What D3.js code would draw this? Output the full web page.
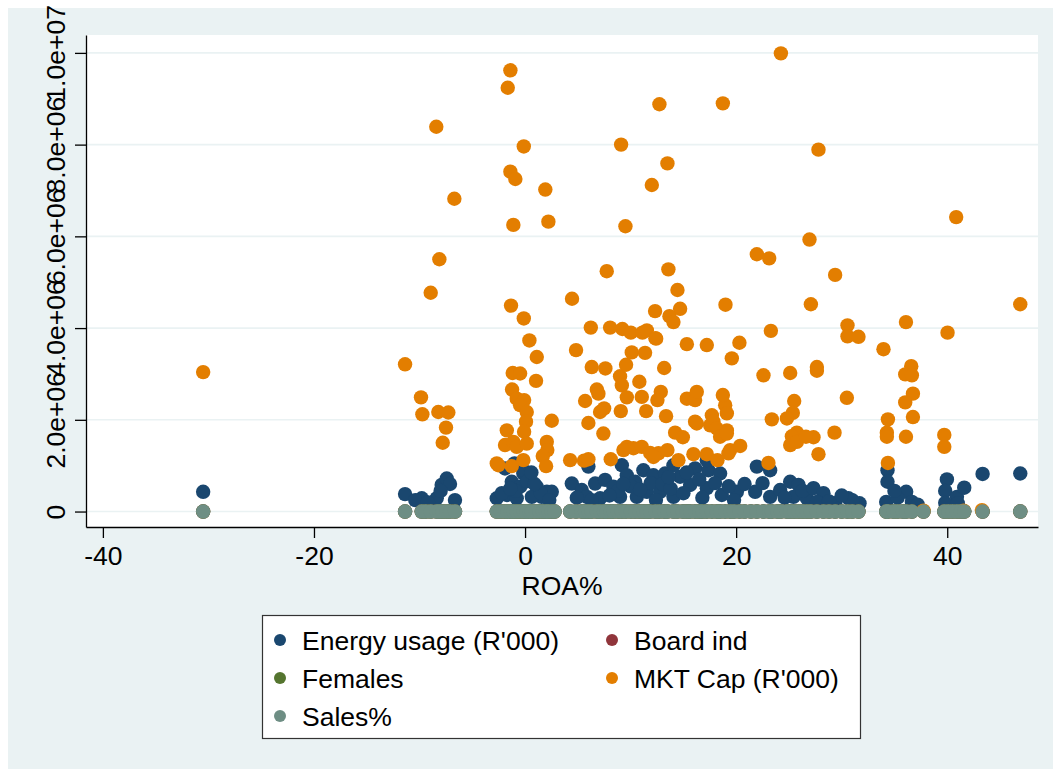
<!DOCTYPE html>
<html>
<head>
<meta charset="utf-8">
<script src="https://cdn.jsdelivr.net/npm/d3@7"></script>
<style>
  body { margin: 0; background: #fff; }
  text { font-family: "Liberation Sans", Arial, sans-serif; }
</style>
</head>
<body>
<div id="chart"></div>
<script>
// legend order (Stata fills row-wise): p1..p5
var seriesNames = ["Energy usage (R'000)", "Board ind", "Females", "MKT Cap (R'000)", "Sales%"];
var seriesColors = ["#1a476f", "#90353b", "#55752f", "#e37e00", "#6e8e84"];

var xTicks = [-40, -20, 0, 20, 40];
var yTicks = [0, 2e6, 4e6, 6e6, 8e6, 1e7];
var yTickLabels = ["0", "2.0e+06", "4.0e+06", "6.0e+06", "8.0e+06", "1.0e+07"];

// [ROA%, MKT Cap (R'000)]
var mktCap = [
  [-30.5, 3.04e6], [-11.37, 3.21e6], [-9.86, 2.49e6], [-9.73, 2.12e6], [-8.22, 2.17e6], [-7.27, 2.16e6],
  [-7.49, 1.83e6], [-7.80, 1.50e6], [-8.94, 4.77e6], [-8.12, 5.50e6], [-8.41, 8.39e6], [-6.70, 6.82e6],
  [-1.39, 9.62e6], [-1.64, 9.24e6], [-0.12, 7.96e6], [-1.39, 7.41e6], [-0.92, 7.25e6], [1.92, 7.02e6],
  [-1.11, 6.25e6], [2.21, 6.32e6], [-1.33, 4.49e6], [-0.12, 4.21e6], [0.41, 3.73e6], [1.11, 3.37e6],
  [-1.17, 3.02e6], [-0.47, 3.01e6], [1.04, 2.85e6], [-1.23, 2.66e6], [-0.79, 2.46e6], [-0.09, 2.43e6],
  [-0.47, 2.32e6], [0.16, 2.17e6], [0.09, 1.96e6], [-1.73, 1.77e6], [-0.09, 1.74e6], [-1.90, 1.45e6],
  [-1.11, 1.52e6], [-0.79, 1.41e6], [0.16, 1.48e6], [-2.53, 1.01e6], [-1.26, 0.99e6], [-0.16, 1.12e6],
  [2.53, 1.98e6], [2.06, 1.52e6], [2.11, 1.34e6], [1.68, 1.21e6], [1.99, 0.99e6], [-2.68, 1.05e6],
  [4.27, 1.12e6], [4.83, 3.52e6], [6.32, 3.15e6], [7.61, 3.12e6], [5.69, 2.41e6], [6.80, 2.66e6],
  [6.95, 2.57e6], [7.49, 2.25e6], [7.11, 2.17e6], [6.00, 1.93e6], [7.42, 1.70e6], [5.59, 1.11e6],
  [6.00, 1.14e6], [8.12, 1.14e6], [9.00, 2.95e6], [9.17, 2.75e6], [9.64, 2.49e6], [9.07, 2.19e6],
  [9.57, 3.20e6], [10.11, 3.47e6], [11.37, 3.46e6], [10.83, 2.83e6], [11.06, 2.50e6], [11.47, 2.19e6],
  [12.42, 3.77e6], [13.18, 3.13e6], [12.86, 2.61e6], [12.54, 2.43e6], [13.36, 2.08e6], [14.22, 1.72e6],
  [14.95, 1.62e6], [9.64, 1.41e6], [10.27, 1.38e6], [11.06, 1.41e6], [11.85, 1.28e6], [12.64, 1.27e6],
  [13.49, 1.34e6], [14.53, 1.12e6], [9.32, 1.34e6], [12.16, 1.19e6], [15.33, 2.46e6], [16.11, 2.43e6],
  [16.27, 2.61e6], [16.11, 1.96e6], [16.27, 1.92e6], [17.54, 1.88e6], [15.95, 1.25e6], [17.22, 1.25e6],
  [17.70, 2.10e6], [17.85, 1.96e6], [18.17, 1.81e6], [18.48, 1.63e6], [19.12, 1.77e6], [18.96, 2.32e6],
  [19.12, 2.14e6], [18.74, 2.54e6], [19.12, 1.70e6], [18.23, 1.12e6], [19.43, 1.34e6], [19.27, 1.27e6],
  [19.59, 3.34e6], [20.31, 3.68e6], [20.38, 1.43e6], [22.59, 2.97e6], [23.38, 2.01e6], [23.06, 1.06e6],
  [23.29, 3.94e6], [12.73, 8.88e6], [18.74, 8.90e6], [9.10, 8.00e6], [13.49, 7.59e6], [12.01, 7.12e6],
  [9.51, 6.22e6], [7.74, 5.24e6], [13.58, 5.28e6], [14.44, 4.83e6], [4.45, 4.64e6], [18.99, 4.51e6],
  [12.32, 4.37e6], [14.69, 4.42e6], [13.68, 4.26e6], [14.06, 4.13e6], [6.23, 4.01e6], [8.06, 4.01e6],
  [9.22, 3.98e6], [10.02, 3.90e6], [11.12, 3.90e6], [11.54, 3.95e6], [12.35, 3.78e6], [15.33, 3.65e6],
  [17.22, 3.63e6], [24.24, 9.99e6], [27.80, 7.89e6], [40.85, 6.42e6], [26.95, 5.93e6], [21.96, 5.61e6],
  [23.13, 5.52e6], [29.38, 5.16e6], [27.08, 4.52e6], [46.92, 4.52e6], [30.55, 4.06e6], [30.55, 3.82e6],
  [31.59, 3.81e6], [36.09, 4.13e6], [40.03, 3.90e6], [33.96, 3.54e6], [25.12, 3.02e6], [27.65, 3.15e6],
  [27.65, 3.07e6], [36.59, 3.17e6], [36.02, 2.99e6], [36.65, 2.97e6], [25.50, 2.41e6], [25.37, 2.15e6],
  [24.81, 2.03e6], [30.49, 2.48e6], [36.75, 2.57e6], [36.02, 2.38e6], [36.75, 2.06e6], [34.38, 2.01e6],
  [25.75, 1.72e6], [25.28, 1.64e6], [25.12, 1.45e6], [25.75, 1.52e6], [27.33, 1.62e6], [29.32, 1.72e6],
  [27.80, 1.25e6], [34.28, 1.72e6], [34.28, 1.63e6], [36.09, 1.63e6], [39.72, 1.67e6], [39.72, 1.41e6],
  [34.38, 1.06e6], [26.61, 1.63e6], [37.75, 0.02e6], [41.55, 0.02e6], [43.29, 0.03e6]
];

// [ROA%, Energy usage (R'000)]
var energy = [
  [-30.5, 0.43e6], [-11.37, 0.38e6], [-9.79, 0.29e6], [-8.37, 0.29e6], [-7.90, 0.58e6], [-7.42, 0.72e6],
  [-7.11, 0.60e6], [-6.64, 0.25e6], [-10.4, 0.25e6], [-9.2, 0.20e6], [-8.0, 0.45e6],
  [-2.68, 0.29e6], [-1.73, 0.36e6], [-1.26, 0.65e6], [-0.16, 0.83e6], [-1.90, 0.94e6], [-0.16, 0.90e6],
  [-0.47, 0.54e6], [1.11, 0.54e6], [2.06, 0.43e6], [2.53, 0.43e6], [1.58, 0.32e6], [0.64, 0.32e6],
  [-0.79, 0.29e6], [0.2, 0.66e6], [1.5, 0.40e6], [-0.9, 0.45e6], [-2.2, 0.40e6], [-1.4, 0.50e6],
  [0.9, 0.60e6], [2.3, 0.25e6], [-1.0, 1.05e6], [0.6, 0.85e6],
  [4.43, 0.61e6], [5.37, 0.47e6], [6.00, 0.98e6], [6.64, 0.61e6], [7.58, 0.69e6], [8.37, 0.54e6],
  [9.17, 1.01e6], [9.64, 0.79e6], [10.43, 0.65e6], [11.21, 0.90e6], [5.85, 0.32e6], [7.11, 0.29e6],
  [9.00, 0.32e6], [10.59, 0.32e6], [11.54, 0.43e6], [12.16, 0.79e6], [13.27, 0.83e6], [14.69, 0.76e6],
  [16.11, 0.94e6], [17.37, 0.90e6], [18.48, 0.83e6], [12.80, 0.43e6], [14.06, 0.32e6], [15.64, 0.58e6],
  [17.22, 0.51e6], [18.64, 0.36e6], [20.07, 0.43e6], [21.96, 0.98e6], [23.22, 0.90e6], [21.80, 0.43e6],
  [23.22, 0.32e6], [24.17, 0.47e6], [25.12, 0.65e6], [25.91, 0.58e6], [25.43, 0.32e6], [26.70, 0.29e6],
  [17.22, 1.12e6], [14.06, 1.01e6], [8.8, 0.45e6], [10.0, 0.55e6], [11.9, 0.62e6], [13.0, 0.60e6],
  [13.8, 0.50e6], [15.0, 0.40e6], [16.5, 0.70e6], [16.8, 0.30e6], [18.0, 0.62e6], [19.3, 0.55e6],
  [19.8, 0.25e6], [20.8, 0.60e6], [22.5, 0.62e6], [24.6, 0.30e6], [26.3, 0.45e6], [4.9, 0.30e6],
  [6.3, 0.25e6], [8.0, 0.35e6], [12.4, 0.25e6], [13.6, 0.75e6], [15.3, 0.85e6], [10.9, 0.48e6],
  [9.3, 0.60e6],
  [27.33, 0.51e6], [28.27, 0.40e6], [27.65, 0.21e6], [29.38, 0.18e6], [30.64, 0.29e6], [31.69, 0.18e6],
  [31.0, 0.25e6], [28.8, 0.22e6], [30.0, 0.35e6],
  [34.34, 0.90e6], [34.34, 0.65e6], [34.22, 0.21e6], [36.11, 0.43e6], [36.65, 0.21e6], [35.3, 0.30e6],
  [35.0, 0.45e6], [37.2, 0.15e6],
  [39.97, 0.70e6], [39.81, 0.45e6], [40.92, 0.32e6], [41.61, 0.52e6], [39.81, 0.19e6], [41.0, 0.18e6],
  [43.35, 0.82e6], [46.92, 0.83e6]
];

// firms for the small-valued series (all plot on the zero line)
var firmRoa = [
  -30.5,
  -11.37, -9.79, -9.4, -8.94, -8.37, -8.1, -7.8, -7.42, -7.11, -6.64,
  -2.68, -2.3, -1.9, -1.64, -1.33, -1.1, -0.79, -0.47, -0.12, 0.16,
  0.41, 0.64, 1.04, 1.35, 1.68, 1.99, 2.21, 2.53, 2.8,
  4.27, 4.83, 5.37, 5.69, 6.0, 6.32, 6.8, 7.11, 7.49, 7.74,
  8.12, 8.37, 8.8, 9.17, 9.57, 10.02, 10.43, 10.83, 11.21, 11.54,
  11.85, 12.35, 12.73, 13.18, 13.49, 14.06, 14.44, 14.95, 15.33, 15.64,
  16.11, 16.5, 16.8, 17.22, 17.7, 18.17, 18.48, 18.96, 19.43, 19.8,
  20.31, 20.8, 21.4, 21.96, 22.59, 23.13, 23.38, 23.9, 24.24, 24.81,
  25.12, 25.5, 25.91, 26.3, 26.7, 27.08, 27.65, 28.27, 28.8, 29.38,
  30.0, 30.55, 31.0, 31.59,
  34.22, 34.38, 34.9, 35.3, 35.8, 36.11, 36.65, 37.75,
  39.72, 40.1, 40.5, 40.92, 41.3, 41.61, 43.35, 46.92
];
var salesPct = [
  12.4,
  8.1, 15.3, 22.7, 5.6, 18.2, 9.9, 31.4, 14.8, 7.2, 26.5,
  11.3, 19.8, 4.7, 27.1, 13.6, 9.4, 21.9, 16.2, 6.8, 33.5,
  10.7, 24.3, 8.9, 17.4, 12.1, 29.6, 5.3, 20.8, 14.2,
  18.6, 7.5, 23.9, 11.8, 35.2, 9.1, 16.7, 28.4, 6.3, 13.9,
  21.5, 10.2, 26.8, 8.4, 19.1, 32.7, 12.6, 5.9, 24.6, 15.8,
  9.7, 30.1, 17.3, 7.9, 22.4, 13.2, 27.9, 6.6, 18.9, 11.5,
  25.3, 8.7, 14.6, 34.1, 10.9, 20.2, 16.4, 7.1, 29.3, 12.8,
  19.7, 6.1, 23.2, 15.1, 9.6, 27.4, 11.9, 31.8, 8.2, 17.9,
  13.4, 22.1, 7.7, 26.2, 10.4, 18.3, 25.7, 9.2, 14.4, 21.2,
  6.9, 16.9, 28.7, 12.2,
  8.6, 19.4, 23.6, 11.1, 15.6, 20.5, 13.7, 9.8,
  24.1, 7.4, 17.6, 30.6, 10.1, 14.9, 22.8, 18.1
];
var boardInd = [
  0.50,
  0.63, 0.45, 0.71, 0.38, 0.56, 0.67, 0.42, 0.59, 0.75, 0.33,
  0.54, 0.61, 0.47, 0.69, 0.40, 0.58, 0.73, 0.36, 0.52, 0.65,
  0.44, 0.60, 0.70, 0.39, 0.57, 0.48, 0.66, 0.53, 0.41,
  0.62, 0.55, 0.46, 0.72, 0.37, 0.64, 0.51, 0.68, 0.43, 0.58,
  0.49, 0.74, 0.35, 0.61, 0.57, 0.45, 0.70, 0.52, 0.63, 0.40,
  0.66, 0.48, 0.59, 0.38, 0.71, 0.54, 0.44, 0.67, 0.50, 0.62,
  0.41, 0.69, 0.56, 0.47, 0.73, 0.39, 0.60, 0.53, 0.65, 0.46,
  0.58, 0.36, 0.64, 0.51, 0.70, 0.43, 0.55, 0.68, 0.42, 0.61,
  0.49, 0.57, 0.72, 0.45, 0.63, 0.40, 0.56, 0.69, 0.47, 0.52,
  0.66, 0.38, 0.59, 0.71,
  0.44, 0.55, 0.62, 0.48, 0.67, 0.53, 0.60, 0.42,
  0.57, 0.64, 0.50, 0.69, 0.46, 0.58, 0.63, 0.51
];
var females = [
  2,
  1, 3, 2, 0, 4, 2, 1, 3, 2, 1,
  3, 2, 4, 1, 2, 3, 0, 2, 5, 1,
  2, 3, 1, 4, 2, 2, 3, 1, 2,
  2, 4, 1, 3, 2, 5, 1, 2, 3, 0,
  3, 2, 1, 4, 2, 3, 2, 1, 5, 2,
  1, 3, 2, 2, 4, 1, 3, 2, 0, 3,
  2, 1, 4, 3, 2, 2, 1, 3, 4, 2,
  3, 2, 1, 2, 5, 3, 2, 1, 2, 4,
  1, 3, 2, 2, 2, 3, 1, 4, 2, 1,
  3, 2, 3, 1,
  2, 4, 2, 3, 1, 2, 3, 2,
  1, 2, 4, 2, 3, 1, 2, 3
];

var W = 1053, H = 769;
var plot = {left: 86, right: 1038, top: 35, bottom: 527};
var fontSize = 26.5;

var svg = d3.select("#chart").append("svg")
    .attr("width", W)
    .attr("height", H);

// graph region
svg.append("rect")
    .attr("x", 8).attr("y", 8)
    .attr("width", W - 8).attr("height", H - 8)
    .attr("fill", "#eaf2f3");

// plot region
svg.append("rect")
    .attr("x", plot.left).attr("y", plot.top)
    .attr("width", plot.right - plot.left).attr("height", plot.bottom - plot.top)
    .attr("fill", "#ffffff");

var x = d3.scaleLinear().domain([-41.6, 48.6]).range([plot.left, plot.right]);
var y = d3.scaleLinear().domain([-0.337e6, 10.39e6]).range([plot.bottom, plot.top]);

// gridlines
svg.append("g").selectAll("line")
    .data(yTicks)
    .enter().append("line")
    .attr("x1", plot.left).attr("x2", plot.right)
    .attr("y1", d => y(d)).attr("y2", d => y(d))
    .attr("stroke", "#eaf2f3")
    .attr("stroke-width", 1.6);

// y axis
var yAxis = svg.append("g")
    .attr("transform", "translate(" + plot.left + ",0)")
    .call(d3.axisLeft(y).tickValues(yTicks).tickSize(11).tickSizeOuter(0)
        .tickFormat((d, i) => yTickLabels[i]));
yAxis.selectAll("text")
    .attr("transform", "rotate(-90)")
    .attr("text-anchor", "middle")
    .attr("x", 0).attr("y", -21).attr("dy", 0)
    .attr("font-size", fontSize)
    .attr("fill", "#000");

// x axis (plain hyphen for negatives, as Stata prints them)
var xAxis = svg.append("g")
    .attr("transform", "translate(0," + plot.bottom + ")")
    .call(d3.axisBottom(x).tickValues(xTicks).tickSize(11).tickSizeOuter(0)
        .tickFormat(d => String(d)));
xAxis.selectAll("text")
    .attr("y", 38).attr("dy", 0)
    .attr("font-size", fontSize)
    .attr("fill", "#000");

svg.selectAll(".domain, .tick line")
    .attr("stroke", "#000")
    .attr("stroke-width", 1.3);

svg.append("text")
    .attr("x", (plot.left + plot.right) / 2)
    .attr("y", 595)
    .attr("text-anchor", "middle")
    .attr("font-size", fontSize)
    .text("ROA%");

// markers, drawn in Stata's plot order
var layers = [
  {pts: energy, color: seriesColors[0]},
  {pts: firmRoa.map((r, i) => [r, boardInd[i]]), color: seriesColors[1]},
  {pts: firmRoa.map((r, i) => [r, females[i]]), color: seriesColors[2]},
  {pts: mktCap, color: seriesColors[3]},
  {pts: firmRoa.map((r, i) => [r, salesPct[i]]), color: seriesColors[4]}
];

layers.forEach(function(layer) {
  svg.append("g").selectAll("circle")
      .data(layer.pts)
      .enter().append("circle")
      .attr("cx", d => x(d[0]))
      .attr("cy", d => y(d[1]))
      .attr("r", 7.2)
      .attr("fill", layer.color);
});

// legend
var legend = svg.append("g");
legend.append("rect")
    .attr("x", 262.5).attr("y", 615.5)
    .attr("width", 598).attr("height", 123)
    .attr("fill", "#fff")
    .attr("stroke", "#333")
    .attr("stroke-width", 1.2);

var colX = [280, 612];
var rowY = [640, 678, 716];
var items = legend.selectAll("g.item")
    .data(seriesNames)
    .enter().append("g")
    .attr("transform", (d, i) => "translate(" + colX[i % 2] + "," + rowY[Math.floor(i / 2)] + ")");
items.append("circle")
    .attr("r", 6)
    .attr("fill", (d, i) => seriesColors[i]);
items.append("text")
    .attr("x", 22)
    .attr("y", 9.5)
    .attr("font-size", fontSize)
    .text(d => d);
</script>
</body>
</html>
